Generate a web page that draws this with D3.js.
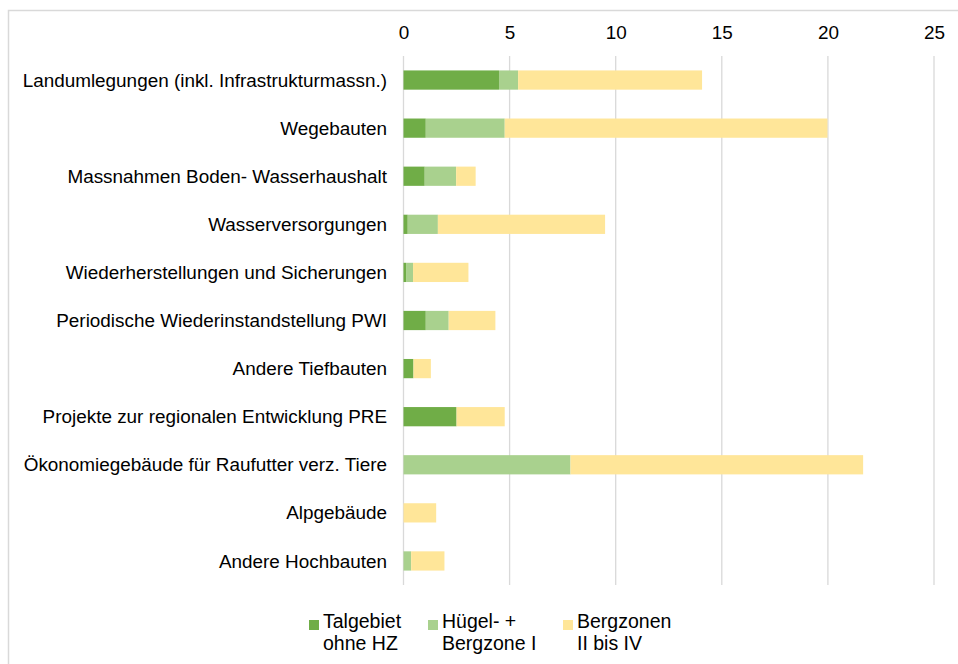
<!doctype html>
<html>
  <head>
    <meta charset="utf-8">
    <script src="https://cdnjs.cloudflare.com/ajax/libs/d3/7.8.5/d3.min.js"></script>
    <style>
      body { margin: 0; background: #fff; }
      text { font-family: "Liberation Sans", Arial, sans-serif; fill: #000; }
    </style>
  </head>
  <body>
    <svg id="chart" width="958" height="664"></svg>
    <script>
        // categories (top to bottom)
        var categories = [
            "Landumlegungen (inkl. Infrastrukturmassn.)",
            "Wegebauten",
            "Massnahmen Boden- Wasserhaushalt",
            "Wasserversorgungen",
            "Wiederherstellungen und Sicherungen",
            "Periodische Wiederinstandstellung PWI",
            "Andere Tiefbauten",
            "Projekte zur regionalen Entwicklung PRE",
            "Ökonomiegebäude für Raufutter verz. Tiere",
            "Alpgebäude",
            "Andere Hochbauten"
        ];

        // series values
        var talgebiet = [4.5, 1.05, 1.0, 0.2, 0.12, 1.05, 0.47, 2.5, 0, 0, 0];
        var huegel    = [0.9, 3.72, 1.48, 1.42, 0.33, 1.08, 0, 0, 7.87, 0, 0.36];
        var bergzonen = [8.67, 15.21, 0.92, 7.88, 2.61, 2.2, 0.82, 2.27, 13.79, 1.54, 1.57];

        var seriesNames = [["Talgebiet", "ohne HZ"], ["Hügel- +", "Bergzone I"], ["Bergzonen", "II bis IV"]];
        var seriesColors = ["#70ad47", "#a9d18e", "#ffe699"];

        var tickValues = [0, 5, 10, 15, 20, 25];

        var rows = categories.map(function(c, i) {
            return { cat: c, s0: talgebiet[i], s1: huegel[i], s2: bergzonen[i] };
        });

        var svg = d3.select("#chart");

        // outer chart frame
        svg.append("rect")
            .attr("x", 8.5).attr("y", 10.5)
            .attr("width", 980).attr("height", 700)
            .attr("fill", "none")
            .attr("stroke", "#d9d9d9")
            .attr("stroke-width", 1.5);

        var x = d3.scaleLinear().domain([0, 25]).range([403.5, 934]);
        var y = d3.scaleBand().domain(categories).range([56, 585])
            .paddingInner(0.6).paddingOuter(0.3);

        // gridlines
        svg.append("g").selectAll("line")
            .data(tickValues)
            .enter().append("line")
                .attr("x1", d => x(d)).attr("x2", d => x(d))
                .attr("y1", 56).attr("y2", 585)
                .attr("stroke", "#d9d9d9")
                .attr("stroke-width", 1.3);

        // top axis labels
        var xAxis = d3.axisTop(x).tickValues(tickValues).tickSize(0).tickPadding(0);
        var gx = svg.append("g")
            .attr("transform", "translate(0,39)")
            .call(xAxis);
        gx.select(".domain").remove();
        gx.selectAll("text")
            .attr("y", 0).attr("dy", 0)
            .style("font-family", "'Liberation Sans', Arial, sans-serif")
            .style("font-size", "18.9px")
            .attr("fill", "#000");

        // category labels
        var gy = svg.append("g")
            .attr("transform", "translate(387,0)")
            .call(d3.axisLeft(y).tickSize(0).tickPadding(0));
        gy.select(".domain").remove();
        gy.selectAll("text")
            .attr("dy", "0.35em")
            .style("font-family", "'Liberation Sans', Arial, sans-serif")
            .style("font-size", "18.9px")
            .attr("fill", "#000");

        // stacked bars
        var stack = d3.stack().keys(["s0", "s1", "s2"]);
        var layers = stack(rows);

        svg.append("g").selectAll("g")
            .data(layers)
            .enter().append("g")
                .attr("fill", (d, i) => seriesColors[i])
            .selectAll("rect")
            .data(d => d)
            .enter().append("rect")
                .attr("x", d => x(d[0]))
                .attr("y", d => y(d.data.cat))
                .attr("width", d => x(d[1]) - x(d[0]))
                .attr("height", y.bandwidth());

        // legend
        var legendX = [309, 428, 563];
        var legend = svg.append("g").selectAll("g")
            .data(seriesNames)
            .enter().append("g")
                .attr("transform", (d, i) => "translate(" + legendX[i] + ",0)");

        legend.append("rect")
            .attr("x", 0).attr("y", 620)
            .attr("width", 10).attr("height", 10)
            .attr("fill", (d, i) => seriesColors[i]);

        legend.append("text")
            .attr("x", 14).attr("y", 628)
            .style("font-size", "19.5px")
            .text(d => d[0]);

        legend.append("text")
            .attr("x", 14).attr("y", 650)
            .style("font-size", "19.5px")
            .text(d => d[1]);
    </script>
  </body>
</html>
